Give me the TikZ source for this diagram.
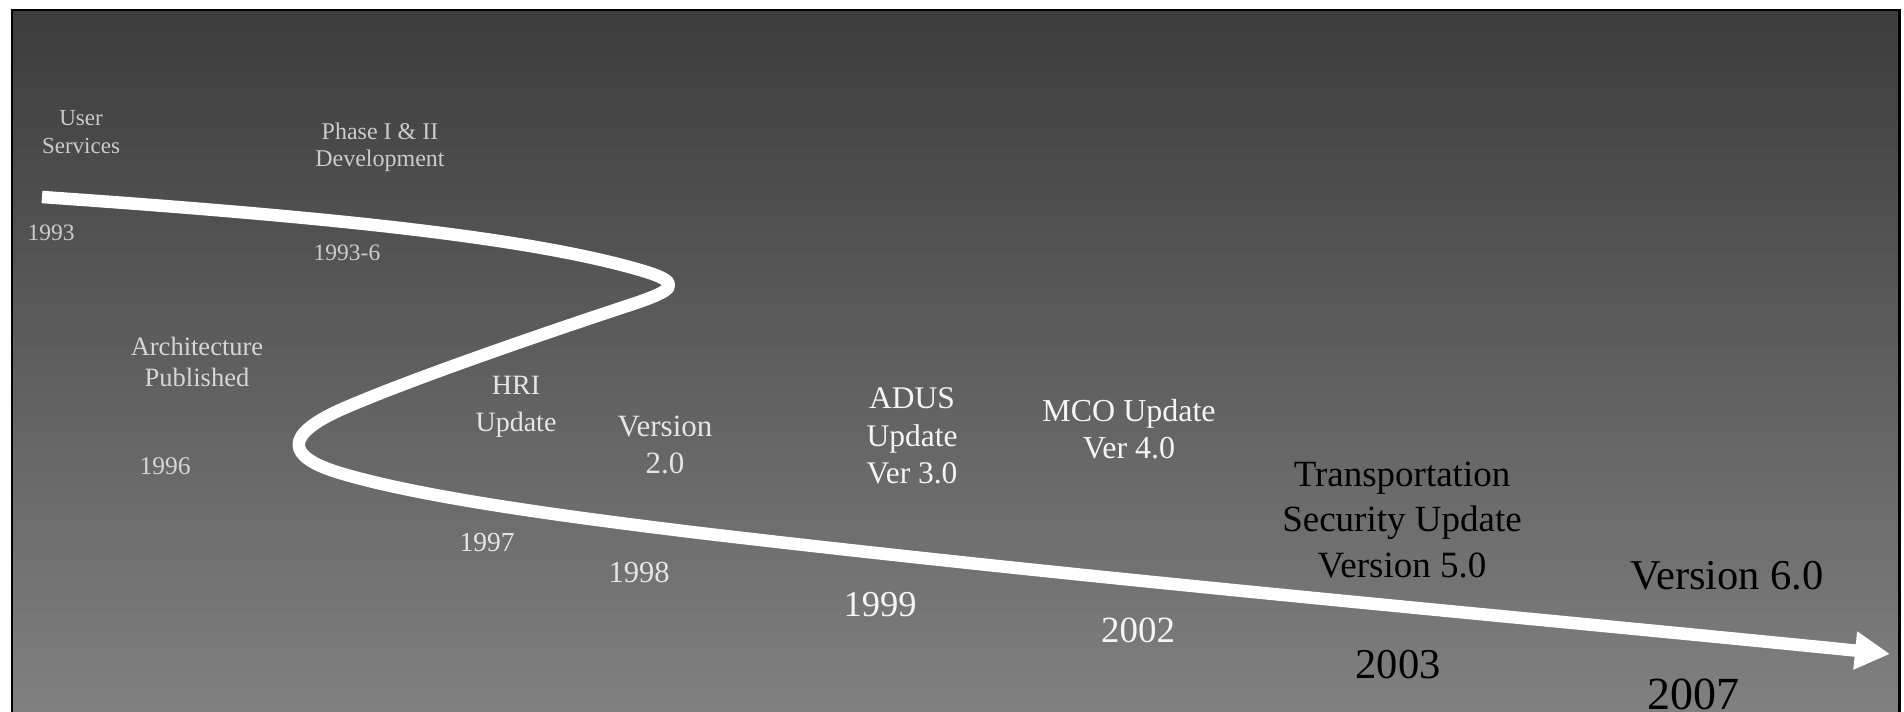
\documentclass[tikz,border=0pt]{standalone}
\usepackage{fontspec}
\setmainfont{Liberation Serif}
\usetikzlibrary{arrows.meta}

\definecolor{bgtop}{gray}{0.235}
\definecolor{bgbot}{gray}{0.502}
\definecolor{txtA}{gray}{0.80}
\definecolor{txtB}{gray}{0.84}
\definecolor{txtC}{gray}{0.90}
\definecolor{txtD}{gray}{0.96}

\begin{document}
\begin{tikzpicture}[x=1pt, y=-1pt,
  lbl/.style n args={3}{inner sep=0pt, align=center, text=#1,
    font=\fontsize{#2}{#3}\selectfont},
  timeline/.style={draw=white, line width=12.5pt, line join=round,
    -{Triangle[length=35pt, width=36pt]}}]

  % page and clipping
  \useasboundingbox (0,0) rectangle (1904,712);
  \clip (0,0) rectangle (1904,712);

  % slide background with gray gradient and frame
  \shade[top color=bgtop, bottom color=bgbot] (12,10) rectangle (1899.5,712);
  \draw[line width=2.5pt] (12,730) -- (12,10) -- (1899.5,10) -- (1899.5,730);

  % the winding timeline: two hairpin turns, then a long run to the arrow
  \coordinate (tlstart) at (42,197);
  \coordinate (tlend) at (1890,654);
  \draw[timeline] (tlstart)
    .. controls (300,215) and (520,235) .. (640,270)
    .. controls (685,283) and (675,290) .. (630,305)
    .. controls (560,328) and (410,379) .. (340,410)
    .. controls (285,435) and (285,456.5) .. (340,473)
    .. controls (420,497) and (560,516) .. (700,533)
    .. controls (1100,580) and (1500,615) .. (tlend);

  % milestones
  \node[lbl={txtA}{23}{28}]     (usersvc) at (81,132)   {User\\Services};
  \node[lbl={txtA}{24}{27}]     (phase)   at (380,147)  {Phase I \& II\\Development};
  \node[lbl={txtA}{23.5}{28}]   (y1993)   at (51,233)   {1993};
  \node[lbl={txtA}{23.5}{28}]   (y19936)  at (347,253)  {1993-6};
  \node[lbl={txtB}{26.5}{31.5}] (arch)    at (197,362)  {Architecture\\Published};
  \node[lbl={txtB}{25.5}{30}]   (y1996)   at (165,466)  {1996};
  \node[lbl={txtC}{28}{36.4}]   (hri)     at (516,407)  {HRI\\Update};
  \node[lbl={txtC}{27.5}{33}]   (y1997)   at (487,543)  {1997};
  \node[lbl={txtC}{31}{36.4}]   (v2)      at (665,445)  {Version\\2.0};
  \node[lbl={txtC}{30.5}{36}]   (y1998)   at (639,573)  {1998};
  \node[lbl={txtD}{31.5}{37.6}] (adus)    at (912,436)  {ADUS\\Update\\Ver 3.0};
  \node[lbl={txtD}{36.5}{44}]   (y1999)   at (880,605)  {1999};
  \node[lbl={txtD}{32}{37.6}]   (mco)     at (1129,429) {MCO Update\\Ver 4.0};
  \node[lbl={txtD}{37}{44}]     (y2002)   at (1138,630) {2002};
  \node[lbl={black}{37}{45.5}]  (tsu)     at (1402,520) {Transportation\\Security Update\\Version 5.0};
  \node[lbl={black}{42.5}{50}]  (v6)      at (1727,576) {Version 6.0};
  \node[lbl={black}{42.5}{50}]  (y2003)   at (1398,665) {2003};
  \node[lbl={black}{46}{55}]    (y2007)   at (1693,694) {2007};
\end{tikzpicture}
\end{document}
